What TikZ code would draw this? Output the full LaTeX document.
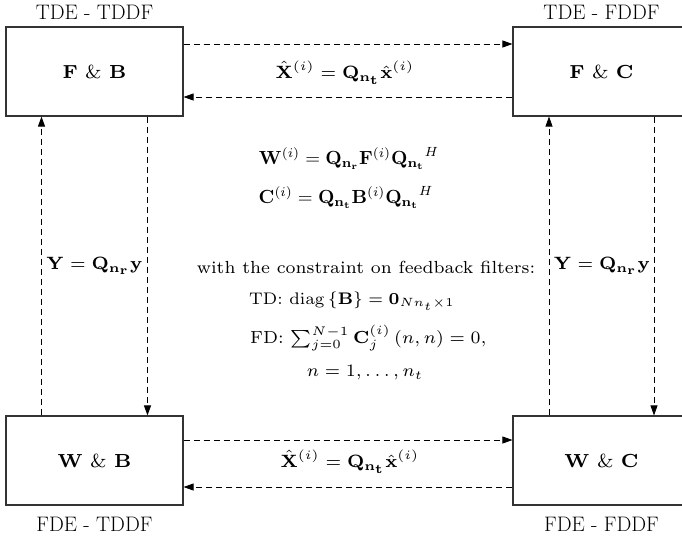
\documentclass[tikz,border=0pt]{standalone}
\usepackage{amsmath}
\usepackage{graphicx}
\usetikzlibrary{arrows.meta,positioning,calc}
\newcommand{\sm}[2]{\scalebox{#1}{\scriptsize #2}}
\newcommand{\Qsub}[1]{\mathbf{Q}_{\mathbf{n}_{\mathbf{#1}}}}
\tikzset{
  >={Triangle[length=10pt,width=7pt]},
  fbox/.style={draw=black!80, line width=1.1pt, minimum width=177pt,
               minimum height=89pt, inner sep=0pt},
  ftag/.style={inner sep=0pt, font=\fontsize{21}{25}\selectfont},
  ftext/.style={inner sep=0pt},
  flink/.style={->, dash pattern=on 6pt off 4pt, line width=0.8pt},
}

\begin{document}
\begin{tikzpicture}[x=1pt,y=-1pt]
  \useasboundingbox (0,0) rectangle (682,536);

  % blocks
  \node[fbox] (fb) at (94.5,71.5)  {\sm{2.7}{$\mathbf{F}$ \& $\mathbf{B}$}};
  \node[fbox] (fc) at (601.5,71.5) {\sm{2.7}{$\mathbf{F}$ \& $\mathbf{C}$}};
  \node[fbox] (wb) at (94.5,460.5) {\sm{2.7}{$\mathbf{W}$ \& $\mathbf{B}$}};
  \node[fbox] (wc) at (601.5,460.5) {\sm{2.7}{$\mathbf{W}$ \& $\mathbf{C}$}};

  \node[ftag, above=6.5pt of fb] (tfb) {TDE - TDDF};
  \node[ftag, above=6.5pt of fc] (tfc) {TDE - FDDF};
  \node[ftag, below=11pt of wb] (twb) {FDE - TDDF};
  \node[ftag, below=11pt of wc] (twc) {FDE - FDDF};

  % links
  \draw[flink] ([yshift=27.5pt]fb.east) -- ([yshift=27.5pt]fc.west);
  \draw[flink] ([yshift=-25.5pt]fc.west) -- ([yshift=-25.5pt]fb.east);
  \draw[flink] ([yshift=20.5pt]wb.east) -- ([yshift=20.5pt]wc.west);
  \draw[flink] ([yshift=-26.5pt]wc.west) -- ([yshift=-26.5pt]wb.east);
  \draw[flink] ([xshift=-53pt]wb.north) -- ([xshift=-53pt]fb.south);
  \draw[flink] ([xshift=53pt]fb.south) -- ([xshift=53pt]wb.north);
  \draw[flink] ([xshift=-52.5pt]wc.north) -- ([xshift=-52.5pt]fc.south);
  \draw[flink] ([xshift=52.5pt]fc.south) -- ([xshift=52.5pt]wc.north);

  \node[ftext] (xtop) at (345,73) {\sm{2.55}{$\hat{\mathbf{X}}^{(i)} = \Qsub{t}\hat{\mathbf{x}}^{(i)}$}};
  \node[ftext] (xbot) at (350,462) {\sm{2.55}{$\hat{\mathbf{X}}^{(i)} = \Qsub{t}\hat{\mathbf{x}}^{(i)}$}};
  \node[ftext] (yl) at (94.5,266) {\sm{2.55}{$\mathbf{Y} = \Qsub{r}\mathbf{y}$}};
  \node[ftext] (yr) at (602,266) {\sm{2.55}{$\mathbf{Y} = \Qsub{r}\mathbf{y}$}};

  % centre
  \node[ftext] (weq) at (349,158)
    {\scalebox{1.9}{$\mathbf{W}^{(i)} = \Qsub{r}\mathbf{F}^{(i)}{\Qsub{t}}^{H}$}};
  \node[ftext] (ceq) at (346,197)
    {\scalebox{1.9}{$\mathbf{C}^{(i)} = \Qsub{t}\mathbf{B}^{(i)}{\Qsub{t}}^{H}$}};
  \node[ftext] (cons) at (366,267) {\sm{2.5}{with the constraint on feedback filters:}};
  \node[ftext, anchor=west] (td) at (249,301)
    {\sm{2.4}{TD: $\mathrm{diag}\left\{\mathbf{B}\right\} = \mathbf{0}_{Nn_t\times 1}$}};
  \node[ftext, anchor=west] (fd) at (250,338)
    {\sm{2.5}{FD: $\sum_{j=0}^{N-1}\mathbf{C}_j^{(i)}\left(n,n\right) = 0,$}};
  \node[ftext] (nr) at (365,373) {\sm{2.5}{$n = 1, \ldots, n_t$}};
\end{tikzpicture}
\end{document}
